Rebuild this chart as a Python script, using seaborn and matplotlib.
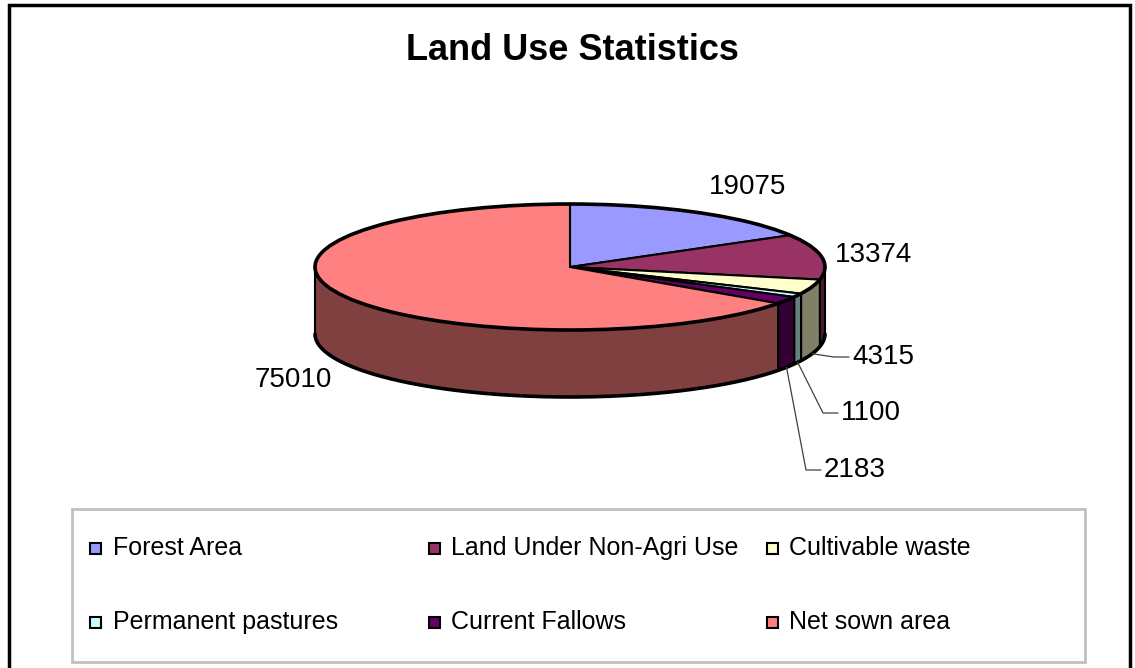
import numpy as np
import matplotlib.pyplot as plt
import seaborn as sns
from matplotlib.colors import to_rgb
from matplotlib.patches import Polygon, Rectangle, Circle


# ── Data ──────────────────────────────────────────────────────────────────────

categories = ["Forest Area", "Land Under Non-Agri Use", "Cultivable waste",
              "Permanent pastures", "Current Fallows", "Net sown area"]
areas = [19075, 13374, 4315, 1100, 2183, 75010]
colors = ["#9999FF", "#993366", "#FFFFCC", "#CCFFFF", "#660066", "#FF8080"]
value_labels = [f"{v}" for v in areas]


# ── Layout (reference pixels, origin top-left) ────────────────────────────────

W, H = 1135, 668
CX, CY, RX, RY, DEPTH = 570, 267, 255, 63, 67
label_pos = [(748, 187), (874, 255), (852, 357), (841, 413), (824, 470), (293, 380)]
label_ha = ["center", "center", "left", "left", "left", "center"]
leader = [False, False, True, True, True, False]
legend_cols_marker = [95, 434, 772]
legend_cols_text = [113, 451, 789]
legend_rows = [548, 622]

sns.set_theme(style="white")
plt.rcParams["font.family"] = ["Liberation Sans", "DejaVu Sans"]
plt.rcParams["text.color"] = "black"


def px(x, y):
    """reference pixel -> pie data units (unit circle)"""
    return (x - CX) / RX, (CY - y) / RY


def fp(x, y):
    """reference pixel -> figure fraction"""
    return x / W, 1 - y / H


fig = plt.figure(figsize=(W / 100, H / 100), dpi=100)
ax = fig.add_axes([0, 0, 1, 1])
d = DEPTH / RY

# ── Side walls (front half only) ──────────────────────────────────────────────
fracs = np.array(areas) / sum(areas)
ends = 90 - 360 * np.cumsum(fracs)
starts = np.r_[90, ends[:-1]]
for s, e, c in zip(starts, ends, colors):
    hi, lo = min(s, 0), max(e, -180)
    if hi <= lo:
        continue
    t = np.radians(np.linspace(hi, lo, 80))
    xs, ys = np.cos(t), np.sin(t)
    pts = np.r_[np.c_[xs, ys], np.c_[xs[::-1], ys[::-1] - d]]
    shade = tuple(0.5 * v for v in to_rgb(c))
    ax.add_patch(Polygon(pts, closed=True, fc=shade, ec="black", lw=1.5, zorder=1))

t = np.radians(np.linspace(0, -180, 300))
ax.plot(np.cos(t), np.sin(t) - d, color="black", lw=2.6, zorder=2)

# ── Top face ──────────────────────────────────────────────────────────────────
ax.pie(areas, colors=colors, startangle=90, counterclock=False, radius=1,
       center=(0, 0), wedgeprops=dict(edgecolor="black", linewidth=1.5, zorder=3))
ax.add_patch(Circle((0, 0), 1, fill=False, ec="black", lw=2.6, zorder=4))

# ── Value labels ──────────────────────────────────────────────────────────────
mids = np.radians((starts + ends) / 2)
for i, txt in enumerate(value_labels):
    lx, ly = label_pos[i]
    ax.text(*px(lx, ly), txt, fontsize=20, ha=label_ha[i], va="center",
            color="black", zorder=6)
    if leader[i]:
        a = (np.cos(mids[i]), np.sin(mids[i]) - d)
        b = px(lx - 18, ly)
        c = px(lx - 3, ly)
        ax.plot([a[0], b[0], c[0]], [a[1], b[1], c[1]], color="#404040",
                lw=0.9, zorder=5)

ax.set_aspect("auto")
ax.set_xlim(px(0, 0)[0], px(W, 0)[0])
ax.set_ylim(px(0, H)[1], px(0, 0)[1])
ax.axis("off")

# ── Title, frame, legend ──────────────────────────────────────────────────────
fig.text(*fp(572, 51), "Land Use Statistics", fontsize=26, fontweight="bold",
         ha="center", va="center", color="black")

fig.add_artist(Rectangle(fp(8.5, H + 10), (1130 - 8.5) / W, (H + 5) / H,
                         transform=fig.transFigure, fill=False, ec="black", lw=2.5))

x0, y0 = fp(72, 662)
fig.add_artist(Rectangle((x0, y0), (1085 - 72) / W, (662 - 509) / H,
                         transform=fig.transFigure, fill=False, ec="#c0c0c0", lw=2))

for i, (name, c) in enumerate(zip(categories, colors)):
    row, col = divmod(i, 3)
    mx, my = legend_cols_marker[col], legend_rows[row]
    sq = 11
    fig.add_artist(Rectangle(fp(mx - sq / 2, my + sq / 2), sq / W, sq / H,
                             transform=fig.transFigure, fc=c, ec="black", lw=1.5))
    fig.text(*fp(legend_cols_text[col], my), name, fontsize=18,
             ha="left", va="center", color="black")

fig.savefig("out.png", dpi=100)
